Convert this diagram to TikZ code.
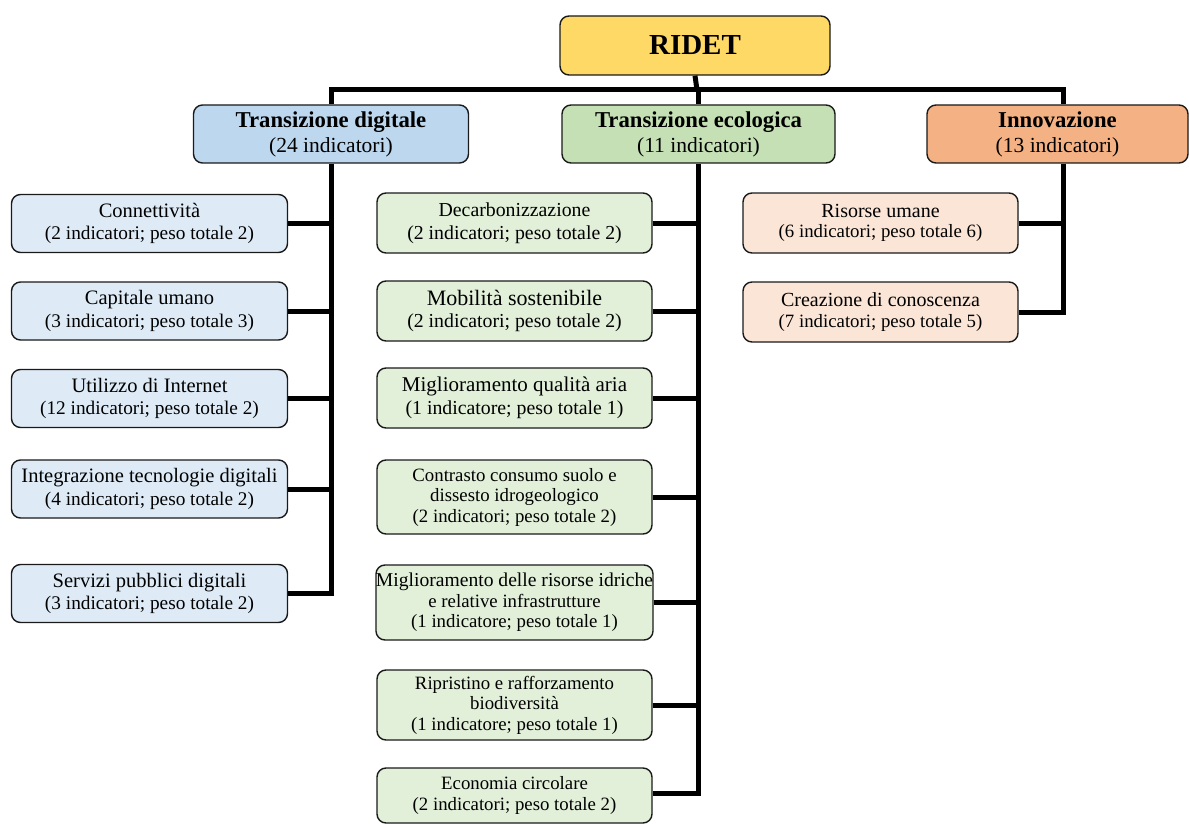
\documentclass[tikz,border=0pt]{standalone}
\usepackage{fontspec}
\setmainfont{Liberation Serif}
\definecolor{cyel}{HTML}{FFD966}
\definecolor{cblue}{HTML}{BDD7EE}
\definecolor{cgreen}{HTML}{C5E0B4}
\definecolor{corange}{HTML}{F4B183}
\definecolor{lblue}{HTML}{DEEBF7}
\definecolor{lgreen}{HTML}{E2F0D9}
\definecolor{lorange}{HTML}{FBE5D6}
\definecolor{edge}{HTML}{1A1A1A}
\newcommand{\fs}[2]{\fontsize{#1}{#2}\selectfont}
\tikzset{
  box/.style={draw=edge, line width=1.4pt, rounded corners=9pt, align=center, inner sep=0pt, text=black},
  top/.style={box, fill=cyel, minimum width=270pt, minimum height=59pt, font=\fs{29}{32}\bfseries},
  lvone/.style={box, minimum width=275pt, minimum height=58pt, font=\fs{21.5}{25}},
  lblbox/.style={box, fill=lblue, minimum width=276pt, minimum height=58pt, font=\fs{19.3}{22.5}},
  lgrbox/.style={box, fill=lgreen, minimum width=275pt, minimum height=60pt, font=\fs{18.8}{20.5}},
  lorbox/.style={box, fill=lorange, minimum width=275pt, minimum height=60pt, font=\fs{18.8}{20.5}}
}
\tikzset{bus/.style={draw=black, line width=5pt, line join=miter}}
\begin{document}
\begin{tikzpicture}[x=1pt,y=-1pt]
\useasboundingbox (0,0) rectangle (1189,824);
% top
\node[top] (R) at (695,45.5) {RIDET};
% level 1
\node[lvone, fill=cblue] (TD) at (331,134) {{\fs{22.7}{25}\bfseries Transizione digitale}\\(24 indicatori)};
\node[lvone, fill=cgreen, minimum width=273pt] (TE) at (698.5,134) {{\fs{22.7}{25}\bfseries Transizione ecologica}\\(11 indicatori)};
\node[lvone, fill=corange, minimum width=261pt] (IN) at (1057.5,134) {{\fs{22.7}{25}\bfseries Innovazione}\\(13 indicatori)};
% left column
\node[lblbox] (D1) at (149.5,223.5) {{\fs{20.5}{22}Connettività}\\(2 indicatori; peso totale 2)};
\node[lblbox] (D2) at (149.5,311) {{\fs{20.5}{22}Capitale umano}\\(3 indicatori; peso totale 3)};
\node[lblbox] (D3) at (149.5,398.5) {{\fs{20.5}{22}Utilizzo di Internet}\\(12 indicatori; peso totale 2)};
\node[lblbox] (D4) at (149.5,489) {{\fs{20.5}{22}Integrazione tecnologie digitali}\\(4 indicatori; peso totale 2)};
\node[lblbox] (D5) at (149.5,593.5) {{\fs{20.5}{22}Servizi pubblici digitali}\\(3 indicatori; peso totale 2)};
% middle column
\node[lgrbox, font=\fs{19.8}{22.5}] (E1) at (514.5,223) {Decarbonizzazione\\(2 indicatori; peso totale 2)};
\node[lgrbox, font=\fs{19.8}{22.5}] (E2) at (514.5,311) {{\fs{22}{22}Mobilità sostenibile}\\(2 indicatori; peso totale 2)};
\node[lgrbox, font=\fs{19.8}{22.5}] (E3) at (514.5,398) {{\fs{21}{22}Miglioramento qualità aria}\\(1 indicatore; peso totale 1)};
\node[lgrbox, minimum height=74pt] (E4) at (514.5,497) {Contrasto consumo suolo e\\dissesto idrogeologico\\(2 indicatori; peso totale 2)};
\node[lgrbox, minimum height=75pt] (E5) at (514.5,602.5) {{\fs{19.6}{20.5}Miglioramento delle risorse idriche}\\e relative infrastrutture\\(1 indicatore; peso totale 1)};
\node[lgrbox, minimum height=70pt] (E6) at (514.5,705) {Ripristino e rafforzamento\\biodiversità\\(1 indicatore; peso totale 1)};
\node[lgrbox, minimum height=55pt] (E7) at (514.5,795.5) {Economia circolare\\(2 indicatori; peso totale 2)};
% right column
\node[lorbox] (I1) at (880.5,223) {{\fs{20}{21}Risorse umane}\\(6 indicatori; peso totale 6)};
\node[lorbox] (I2) at (880.5,312) {{\fs{20}{21}Creazione di conoscenza}\\(7 indicatori; peso totale 5)};
% bus lines
\coordinate (bar) at (697,90);
\coordinate (INtop) at ([xshift=5.5pt]IN.north);
\coordinate (INbot) at ([xshift=5.5pt]IN.south);
\draw[bus] (R.south) -- (bar);
\draw[bus] (TD.north) |- (bar) -| (INtop);
\draw[bus] (TE.north) -- (TE.north |- bar);
% left trunk
\draw[bus] (TD.south) |- (D5.east);
\foreach \n in {D1,D2,D3,D4} \draw[bus] (\n.east) -- (\n.east -| TD.south);
% middle trunk
\draw[bus] (TE.south) |- ([yshift=2.5pt]E7.east);
\foreach \n in {E1,E2,E3,E4,E5,E6} \draw[bus] (\n.east) -- (\n.east -| TE.south);
% right trunk
\draw[bus] (INbot) |- (I2.east);
\draw[bus] (I1.east) -- (I1.east -| INbot);
\end{tikzpicture}
\end{document}
